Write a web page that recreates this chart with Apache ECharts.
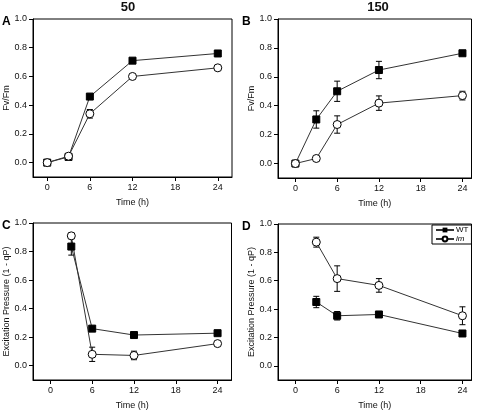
<!DOCTYPE html>
<html><head><meta charset="utf-8">
<script src="https://cdn.jsdelivr.net/npm/echarts@6/dist/echarts.min.js"></script>
<style>html,body{margin:0;padding:0;background:#fff}#c{width:478px;height:411px}</style>
</head><body><div id="c"></div>
<script>
// ---- data ----
const timeAB = [0, 3, 6, 12, 24];
const timeCD = [3, 6, 12, 24];
const xTicks = [0, 6, 12, 18, 24];
const yTicks = [0, 0.2, 0.4, 0.6, 0.8, 1.0];

const A_wt = [0.0, 0.04, 0.46, 0.71, 0.76];
const A_wtErr = [0, 0.005, 0.01, 0.01, 0.01];
const A_im = [0.0, 0.045, 0.34, 0.60, 0.66];
const A_imErr = [0, 0.005, 0.03, 0.01, 0.015];

const B_wt = [0.0, 0.305, 0.50, 0.647, 0.763];
const B_wtErr = [0, 0.06, 0.07, 0.06, 0.01];
const B_im = [0.0, 0.035, 0.27, 0.418, 0.47];
const B_imErr = [0, 0.005, 0.06, 0.05, 0.03];

const C_wt = [0.835, 0.26, 0.215, 0.228];
const C_wtErr = [0.06, 0.01, 0.01, 0.01];
const C_im = [0.91, 0.08, 0.072, 0.155];
const C_imErr = [0.02, 0.05, 0.03, 0.015];

const D_wt = [0.45, 0.353, 0.362, 0.228];
const D_wtErr = [0.04, 0.03, 0.01, 0.01];
const D_im = [0.872, 0.615, 0.567, 0.353];
const D_imErr = [0.035, 0.09, 0.048, 0.063];

const panelTitles = ['50', '150'];
const panelLetters = ['A', 'B', 'C', 'D'];
const yNames = ['Fv/Fm', 'Fv/Fm', 'Excitation Pressure (1 - qP)', 'Excitation Pressure (1 - qP)'];

// ---- layout ----
const FONT = '"Liberation Sans", Arial, sans-serif';
const grids = [
  {left: 33, top: 19, width: 199, height: 158},
  {left: 278, top: 19, width: 193.5, height: 159},
  {left: 33, top: 223, width: 198.5, height: 158.5},
  {left: 278, top: 224, width: 193.5, height: 158}
];
const xRanges = [[-2, 26], [-2.5, 25.3], [-2.5, 26], [-2.5, 25.3]];
const yNameGaps = [18, 18, 21, 21];

const panels = [
  {t: timeAB, wt: A_wt, wtE: A_wtErr, im: A_im, imE: A_imErr},
  {t: timeAB, wt: B_wt, wtE: B_wtErr, im: B_im, imE: B_imErr},
  {t: timeCD, wt: C_wt, wtE: C_wtErr, im: C_im, imE: C_imErr},
  {t: timeCD, wt: D_wt, wtE: D_wtErr, im: D_im, imE: D_imErr}
];

const xAxis = [], yAxis = [], series = [];
grids.forEach((g, i) => {
  g.show = true; g.borderColor = '#000'; g.borderWidth = 1; g.containLabel = false;
  xAxis.push({
    type: 'value', gridIndex: i, min: xRanges[i][0], max: xRanges[i][1],
    name: 'Time (h)', nameLocation: 'middle', nameGap: 21,
    nameTextStyle: {fontFamily: FONT, fontSize: 9, color: '#111'},
    axisLine: {show: true, onZero: false, lineStyle: {color: '#000', width: 1}},
    axisTick: {show: true, length: 4, lineStyle: {color: '#000'}, customValues: xTicks},
    axisLabel: {fontFamily: FONT, fontSize: 9, color: '#111', margin: 6, customValues: xTicks},
    splitLine: {show: false}
  });
  yAxis.push({
    type: 'value', gridIndex: i, min: -0.1, max: 1.0,
    name: yNames[i], nameLocation: 'middle', nameGap: yNameGaps[i], nameRotate: 90,
    nameTextStyle: {fontFamily: FONT, fontSize: 9, color: '#111'},
    axisLine: {show: true, onZero: false, lineStyle: {color: '#000', width: 1}},
    axisTick: {show: true, length: 4, lineStyle: {color: '#000'}, customValues: yTicks},
    axisLabel: {fontFamily: FONT, fontSize: 9, color: '#111', margin: 6, customValues: yTicks,
      formatter: v => v.toFixed(1)},
    splitLine: {show: false}
  });
  const p = panels[i];
  const errData = [];
  p.t.forEach((t, k) => { errData.push([t, p.wt[k], p.wtE[k]]); errData.push([t, p.im[k], p.imE[k]]); });
  series.push({
    type: 'custom', xAxisIndex: i, yAxisIndex: i, z: 1, silent: true,
    data: errData,
    renderItem: (params, api) => {
      const x = api.value(0), y = api.value(1), e = api.value(2);
      const a = api.coord([x, y - e]), b = api.coord([x, y + e]);
      const st = {stroke: '#000', lineWidth: 1};
      return {type: 'group', children: [
        {type: 'line', shape: {x1: a[0], y1: a[1], x2: b[0], y2: b[1]}, style: st},
        {type: 'line', shape: {x1: a[0] - 3, y1: a[1], x2: a[0] + 3, y2: a[1]}, style: st},
        {type: 'line', shape: {x1: b[0] - 3, y1: b[1], x2: b[0] + 3, y2: b[1]}, style: st}
      ]};
    }
  });
  series.push({
    name: 'WT', type: 'line', xAxisIndex: i, yAxisIndex: i, z: 3,
    data: p.t.map((t, k) => [t, p.wt[k]]),
    symbol: 'rect', symbolSize: 7,
    lineStyle: {color: '#333', width: 1},
    itemStyle: {color: '#000', borderColor: '#000'}
  });
  series.push({
    name: 'im', type: 'line', xAxisIndex: i, yAxisIndex: i, z: 3,
    data: p.t.map((t, k) => [t, p.im[k]]),
    symbol: 'circle', symbolSize: 8, showAllSymbol: true,
    lineStyle: {color: '#333', width: 1},
    itemStyle: {color: '#fff', borderColor: '#000', borderWidth: 1}
  });
});

const graphic = [
  {type: 'text', x: 128, y: 7, style: {text: panelTitles[0], font: 'bold 13px ' + FONT, fill: '#111', align: 'center', verticalAlign: 'middle'}},
  {type: 'text', x: 378, y: 7, style: {text: panelTitles[1], font: 'bold 13px ' + FONT, fill: '#111', align: 'center', verticalAlign: 'middle'}},
  {type: 'text', x: 2, y: 16, style: {text: panelLetters[0], font: 'bold 12px ' + FONT, fill: '#000'}},
  {type: 'text', x: 242, y: 16, style: {text: panelLetters[1], font: 'bold 12px ' + FONT, fill: '#000'}},
  {type: 'text', x: 2, y: 220, style: {text: panelLetters[2], font: 'bold 12px ' + FONT, fill: '#000'}},
  {type: 'text', x: 242, y: 221, style: {text: panelLetters[3], font: 'bold 12px ' + FONT, fill: '#000'}}
];

const chart = echarts.init(document.getElementById('c'), null, {renderer: 'canvas'});
chart.setOption({
  animation: false,
  backgroundColor: '#fff',
  grid: grids,
  xAxis: xAxis,
  yAxis: yAxis,
  series: series,
  graphic: graphic,
  legend: {
    data: ['WT', 'im'], orient: 'vertical', left: 432, top: 225,
    itemWidth: 18, itemHeight: 6, itemGap: 1, padding: [1, 3, 1, 3],
    borderColor: '#000', borderWidth: 1, backgroundColor: '#fff',
    selectedMode: false,
    formatter: n => n === 'im' ? '{i|im}' : n,
    textStyle: {fontFamily: FONT, fontSize: 8, color: '#000', padding: [0, 0, 0, -3],
      rich: {i: {fontStyle: 'italic', fontFamily: FONT, fontSize: 8}}}
  }
});
</script>
</body></html>
